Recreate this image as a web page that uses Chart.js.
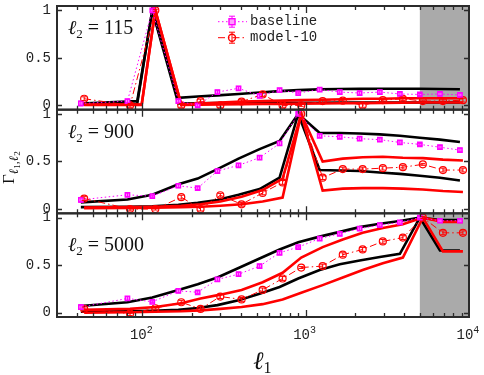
<!DOCTYPE html>
<html>
<head>
<meta charset="utf-8">
<script src="https://cdn.jsdelivr.net/npm/chart.js@4.4.1/dist/chart.umd.min.js"></script>
<style>
  html, body { margin: 0; padding: 0; background: #fff; }
</style>
</head>
<body>
<canvas id="chart" width="484" height="375"></canvas>
<script>
// bin centres in l1: baseline points, model-10 points (drawn slightly offset)
const ellBase = [42, 81, 115, 166, 218, 288, 388, 522, 692, 900, 1218, 1617, 2140, 2845, 3774, 5000, 6640, 8800];
const ellModel = [44, 84, 120, 173, 227, 300, 405, 545, 722, 939, 1270, 1687, 2232, 2967, 3936, 5215, 6925, 9180];
// theory curves of the l2=115 panel turn up later than the second bin
const ellCurveTop = [42, 93, 115, 166, 218, 288, 388, 522, 692, 900, 1218, 1617, 2140, 2845, 3774, 5000, 6640, 8800];
const ellCurveTopModel = [44, 99, 120, 173, 227, 300, 405, 545, 722, 939, 1270, 1687, 2232, 2967, 3936, 5215, 6925, 9180];

const ell2Labels = ['115', '900', '5000'];

// l2 = 115
const baseTop = [0.02, 0.045, 1.0, 0.045, 0.0, 0.14, 0.18, 0.10, 0.16, 0.13, 0.167, 0.14, 0.13, 0.14, 0.12, 0.115, 0.12, 0.11];
const modelTop = [0.07, 0.0, 1.0, 0.0, 0.045, 0.0, 0.04, 0.115, 0.0, 0.0, 0.045, 0.05, 0.0, 0.055, 0.07, 0.045, 0.045, 0.055];
const blackHiTop = [0.02, 0.045, 1.0, 0.08, 0.093, 0.105, 0.12, 0.135, 0.15, 0.16, 0.168, 0.172, 0.174, 0.175, 0.175, 0.175, 0.172, 0.17];
const blackLoTop = [0.01, 0.02, 1.0, 0.02, 0.022, 0.024, 0.025, 0.026, 0.027, 0.028, 0.028, 0.029, 0.03, 0.03, 0.03, 0.03, 0.03, 0.03];
const redHiTop = [0.01, 0.01, 1.0, 0.01, 0.02, 0.03, 0.04, 0.045, 0.05, 0.055, 0.06, 0.065, 0.07, 0.07, 0.075, 0.075, 0.075, 0.075];
const redLoTop = [0.005, 0.005, 1.0, 0.005, 0.008, 0.01, 0.012, 0.014, 0.016, 0.018, 0.02, 0.022, 0.024, 0.026, 0.028, 0.03, 0.03, 0.03];

// l2 = 900
const baseMid = [0.097, 0.15, 0.135, 0.245, 0.22, 0.40, 0.46, 0.54, 0.69, 1.0, 0.77, 0.76, 0.74, 0.73, 0.70, 0.68, 0.65, 0.62];
const modelMid = [0.11, 0.0, 0.0, 0.125, 0.0, 0.145, 0.05, 0.17, 0.28, 1.0, 0.33, 0.42, 0.42, 0.43, 0.44, 0.47, 0.41, 0.41];
const blackHiMid = [0.07, 0.10, 0.15, 0.26, 0.32, 0.42, 0.53, 0.63, 0.715, 1.0, 0.80, 0.80, 0.795, 0.785, 0.77, 0.75, 0.73, 0.705];
const blackLoMid = [0.02, 0.025, 0.03, 0.045, 0.065, 0.095, 0.15, 0.21, 0.33, 1.0, 0.41, 0.405, 0.40, 0.385, 0.37, 0.35, 0.33, 0.30];
const redHiMid = [0.015, 0.02, 0.025, 0.035, 0.05, 0.08, 0.13, 0.20, 0.32, 1.0, 0.50, 0.53, 0.545, 0.55, 0.54, 0.535, 0.52, 0.51];
const redLoMid = [0.01, 0.012, 0.015, 0.02, 0.025, 0.035, 0.05, 0.08, 0.12, 1.0, 0.195, 0.215, 0.22, 0.22, 0.215, 0.205, 0.19, 0.18];

// l2 = 5000
const baseBot = [0.06, 0.15, 0.115, 0.23, 0.215, 0.35, 0.405, 0.49, 0.63, 0.69, 0.78, 0.83, 0.885, 0.92, 0.95, 1.0, 0.967, 0.967];
const modelBot = [0.04, -0.01, 0.047, 0.11, 0.04, 0.17, 0.14, 0.24, 0.36, 0.475, 0.49, 0.61, 0.665, 0.75, 0.79, 1.0, 0.84, 0.84];
const blackHiBot = [0.07, 0.11, 0.16, 0.24, 0.30, 0.37, 0.47, 0.57, 0.665, 0.74, 0.80, 0.85, 0.90, 0.935, 0.965, 1.0, 0.975, 0.975];
const blackLoBot = [0.01, 0.015, 0.02, 0.03, 0.05, 0.08, 0.13, 0.20, 0.27, 0.36, 0.45, 0.51, 0.55, 0.585, 0.62, 1.0, 0.655, 0.655];
const redHiBot = [0.03, 0.04, 0.06, 0.10, 0.15, 0.19, 0.24, 0.32, 0.42, 0.58, 0.69, 0.77, 0.84, 0.89, 0.93, 1.0, 0.955, 0.955];
const redLoBot = [0.0, 0.005, 0.01, 0.015, 0.025, 0.04, 0.06, 0.09, 0.14, 0.21, 0.29, 0.37, 0.45, 0.52, 0.58, 1.0, 0.645, 0.645];

// error bars
const errBaseline = [0.025, 0.02, 0.01, 0.02, 0.015, 0.02, 0.02, 0.02, 0.02, 0.01, 0.02, 0.02, 0.02, 0.02, 0.02, 0.01, 0.02, 0.02];
const errModel = [0.02, 0.02, 0.01, 0.02, 0.02, 0.02, 0.02, 0.02, 0.02, 0.01, 0.02, 0.02, 0.02, 0.02, 0.02, 0.01, 0.02, 0.02];

// grey band (l1 range) and which panels have it
const shadeRange = [5000, 10000];
const shadedPanels = [true, false, true];

const panels = [
	{ axis: 'yTop', base: baseTop, model: modelTop, bHi: blackHiTop, bLo: blackLoTop, rHi: redHiTop, rLo: redLoTop, ellC: ellCurveTop, ellCM: ellCurveTopModel },
	{ axis: 'yMid', base: baseMid, model: modelMid, bHi: blackHiMid, bLo: blackLoMid, rHi: redHiMid, rLo: redLoMid, ellC: ellBase, ellCM: ellModel },
	{ axis: 'yBot', base: baseBot, model: modelBot, bHi: blackHiBot, bLo: blackLoBot, rHi: redHiBot, rLo: redLoBot, ellC: ellBase, ellCM: ellModel }
];

const zip = (xs, ys) => xs.map((x, i) => ({ x, y: ys[i] }));

const SERIF = "'Liberation Serif', 'DejaVu Serif', serif";
const MONO = "'Liberation Mono', 'DejaVu Sans Mono', monospace";

const datasets = [];
panels.forEach(p => {
	datasets.push({
		label: 'baseline', yAxisID: p.axis, data: zip(ellBase, p.base),
		borderColor: '#ff00ff', borderWidth: 1, borderDash: [1.5, 2.5],
		pointStyle: 'rect', pointRadius: 3, pointBorderWidth: 1.5,
		pointBorderColor: '#ff00ff', pointBackgroundColor: '#ff9cff',
		errorBars: errBaseline, capWidth: 5, errColor: '#ff00ff'
	});
	datasets.push({
		label: 'model-10', yAxisID: p.axis, data: zip(ellModel, p.model),
		borderColor: '#ff0000', borderWidth: 1, borderDash: [7, 3, 1.5, 3],
		pointStyle: 'circle', pointRadius: 3.5, pointBorderWidth: 1.2,
		pointBorderColor: '#ff0000', pointBackgroundColor: 'rgba(255,255,255,0)',
		errorBars: errModel, capWidth: 5, errColor: '#ff0000'
	});
	[p.rHi, p.rLo].forEach(v => datasets.push({
		yAxisID: p.axis, data: zip(p.ellCM, v), borderColor: '#ff0000', borderWidth: 2.6, pointRadius: 0
	}));
	[p.bHi, p.bLo].forEach(v => datasets.push({
		yAxisID: p.axis, data: zip(p.ellC, v), borderColor: '#000000', borderWidth: 2.6, pointRadius: 0
	}));
});

const yScale = (weight) => ({
	type: 'linear', position: 'left', stack: 'panels', stackWeight: 1, weight,
	min: -0.045, max: 1.045,
	grid: { display: false, drawTicks: false },
	border: { display: false },
	ticks: {
		font: { family: MONO, size: 14 }, color: '#222', padding: 6,
		callback: v => String(v)
	},
	afterBuildTicks: s => { s.ticks = [{ value: 0 }, { value: 0.5 }, { value: 1 }]; },
	afterFit: s => { s.width = 57; s.paddingTop = 0; s.paddingBottom = 0; }
});

function drawRuns(ctx, x, y, runs) {
	ctx.textAlign = 'left';
	ctx.textBaseline = 'alphabetic';
	runs.forEach(r => {
		ctx.font = r.font;
		ctx.fillText(r.t, x, y + (r.dy || 0));
		x += ctx.measureText(r.t).width;
	});
}

const panelAxes = ['yTop', 'yMid', 'yBot'];

const decorations = {
	id: 'decorations',
	beforeDatasetsDraw(chart) {
		const { ctx, chartArea, scales } = chart;
		ctx.save();
		ctx.fillStyle = '#aaaaaa';
		panelAxes.forEach((id, i) => {
			if (!shadedPanels[i]) return;
			const s = scales[id];
			const x0 = scales.x.getPixelForValue(shadeRange[0]);
			const x1 = Math.min(scales.x.getPixelForValue(shadeRange[1]), chartArea.right);
			ctx.fillRect(x0, s.top, x1 - x0, s.bottom - s.top);
		});
		ctx.restore();
	},
	afterDatasetsDraw(chart) {
		const { ctx } = chart;
		ctx.save();
		chart.data.datasets.forEach((ds, i) => {
			if (!ds.errorBars) return;
			const meta = chart.getDatasetMeta(i);
			const ys = chart.scales[ds.yAxisID];
			ctx.strokeStyle = ds.errColor;
			ctx.lineWidth = 1;
			meta.data.forEach((pt, j) => {
				const v = ds.data[j].y, e = ds.errorBars[j];
				const yA = ys.getPixelForValue(v - e), yB = ys.getPixelForValue(v + e);
				const c = ds.capWidth / 2;
				ctx.beginPath();
				ctx.moveTo(pt.x, yA); ctx.lineTo(pt.x, yB);
				ctx.moveTo(pt.x - c, yA); ctx.lineTo(pt.x + c, yA);
				ctx.moveTo(pt.x - c, yB); ctx.lineTo(pt.x + c, yB);
				ctx.stroke();
			});
		});
		ctx.restore();
	},
	afterDraw(chart) {
		const { ctx, chartArea, scales } = chart;
		const xs = scales.x;
		const L = chartArea.left, R = chartArea.right;
		ctx.save();
		ctx.strokeStyle = '#2b2b2b';

		// x tick positions (inward, top and bottom of each panel)
		const xticks = [];
		[10, 100, 1000].forEach(d => {
			for (let k = 1; k <= 9; k++) {
				const v = k * d;
				if (v > 30 && v < 10000) xticks.push({ v, major: k === 1 });
			}
		});

		panelAxes.forEach((id, i) => {
			const s = scales[id];
			ctx.lineWidth = 1.3;
			ctx.beginPath();
			xticks.forEach(t => {
				const px = Math.round(xs.getPixelForValue(t.v)) + 0.5;
				const len = t.major ? 7 : 4;
				ctx.moveTo(px, s.bottom); ctx.lineTo(px, s.bottom - len);
				ctx.moveTo(px, s.top); ctx.lineTo(px, s.top + len);
			});
			[0, 0.5, 1].forEach(v => {
				const py = Math.round(s.getPixelForValue(v)) + 0.5;
				ctx.moveTo(L, py); ctx.lineTo(L + 5, py);
				ctx.moveTo(R, py); ctx.lineTo(R - 5, py);
			});
			ctx.stroke();
			ctx.lineWidth = 2;
			ctx.strokeRect(L, s.top, R - L, s.bottom - s.top);

			// panel label
			ctx.fillStyle = '#111';
			const ly = s.getPixelForValue(i === 2 ? 0.65 : 0.75);
			drawRuns(ctx, 68, ly, [
				{ t: 'ℓ', font: 'italic 20px ' + SERIF },
				{ t: '2', font: '13px ' + SERIF, dy: 4 },
				{ t: ' = ' + ell2Labels[i], font: '20px ' + SERIF }
			]);
		});

		// x tick labels 10^n
		ctx.fillStyle = '#222';
		[[100, '2'], [1000, '3'], [10000, '4']].forEach(([v, e]) => {
			const cx = xs.getPixelForValue(v);
			drawRuns(ctx, cx - 12.5, 339, [
				{ t: '10', font: '14px ' + MONO },
				{ t: e, font: '10px ' + MONO, dy: -6 }
			]);
		});

		// axis titles
		ctx.fillStyle = '#111';
		drawRuns(ctx, 253, 369, [
			{ t: 'ℓ', font: 'italic 25px ' + SERIF },
			{ t: '1', font: '16px ' + SERIF, dy: 4 }
		]);
		ctx.save();
		ctx.translate(14, 184);
		ctx.rotate(-Math.PI / 2);
		drawRuns(ctx, 0, 0, [
			{ t: 'Γ', font: '17px ' + SERIF },
			{ t: 'ℓ', font: 'italic 13px ' + SERIF, dy: 4 },
			{ t: '1', font: '9px ' + SERIF, dy: 6 },
			{ t: ',', font: '12px ' + SERIF, dy: 4 },
			{ t: 'ℓ', font: 'italic 13px ' + SERIF, dy: 4 },
			{ t: '2', font: '9px ' + SERIF, dy: 6 }
		]);
		ctx.restore();

		// legend
		const leg = [
			{ y: 21.7, color: '#ff00ff', dash: [1.5, 2.5], text: 'baseline', marker: 'rect' },
			{ y: 37.7, color: '#ff0000', dash: [7, 3, 1.5, 3], text: 'model-10', marker: 'circle' }
		];
		leg.forEach(l => {
			ctx.strokeStyle = l.color;
			ctx.lineWidth = 1;
			ctx.setLineDash(l.dash);
			ctx.beginPath(); ctx.moveTo(218, l.y); ctx.lineTo(247, l.y); ctx.stroke();
			ctx.setLineDash([]);
			ctx.beginPath();
			ctx.moveTo(232, l.y - 5.5); ctx.lineTo(232, l.y + 5.5);
			ctx.moveTo(229, l.y - 5.5); ctx.lineTo(235, l.y - 5.5);
			ctx.moveTo(229, l.y + 5.5); ctx.lineTo(235, l.y + 5.5);
			ctx.stroke();
			ctx.lineWidth = 1.4;
			if (l.marker === 'rect') {
				ctx.fillStyle = '#ff9cff';
				ctx.fillRect(229, l.y - 3, 6, 6);
				ctx.strokeRect(229, l.y - 3, 6, 6);
			} else {
				ctx.beginPath(); ctx.arc(232, l.y, 3.5, 0, Math.PI * 2); ctx.stroke();
			}
			ctx.fillStyle = '#222';
			ctx.font = '14px ' + MONO;
			ctx.textBaseline = 'middle';
			ctx.fillText(l.text, 250, l.y);
		});
		ctx.restore();
	}
};

new Chart(document.getElementById('chart'), {
	type: 'line',
	data: { datasets },
	options: {
		responsive: false,
		animation: false,
		devicePixelRatio: 1,
		layout: { padding: { left: 0, right: 15, top: 6, bottom: 0 } },
		elements: { line: { tension: 0 } },
		plugins: { legend: { display: false }, tooltip: { enabled: false } },
		scales: {
			x: {
				type: 'logarithmic', min: 30, max: 10000,
				grid: { display: false, drawTicks: false },
				border: { display: false },
				ticks: { display: false },
				afterFit: s => { s.height = 58; s.paddingLeft = 0; s.paddingRight = 0; }
			},
			yTop: yScale(3),
			yMid: yScale(2),
			yBot: yScale(1)
		}
	},
	plugins: [decorations]
});
</script>
</body>
</html>
